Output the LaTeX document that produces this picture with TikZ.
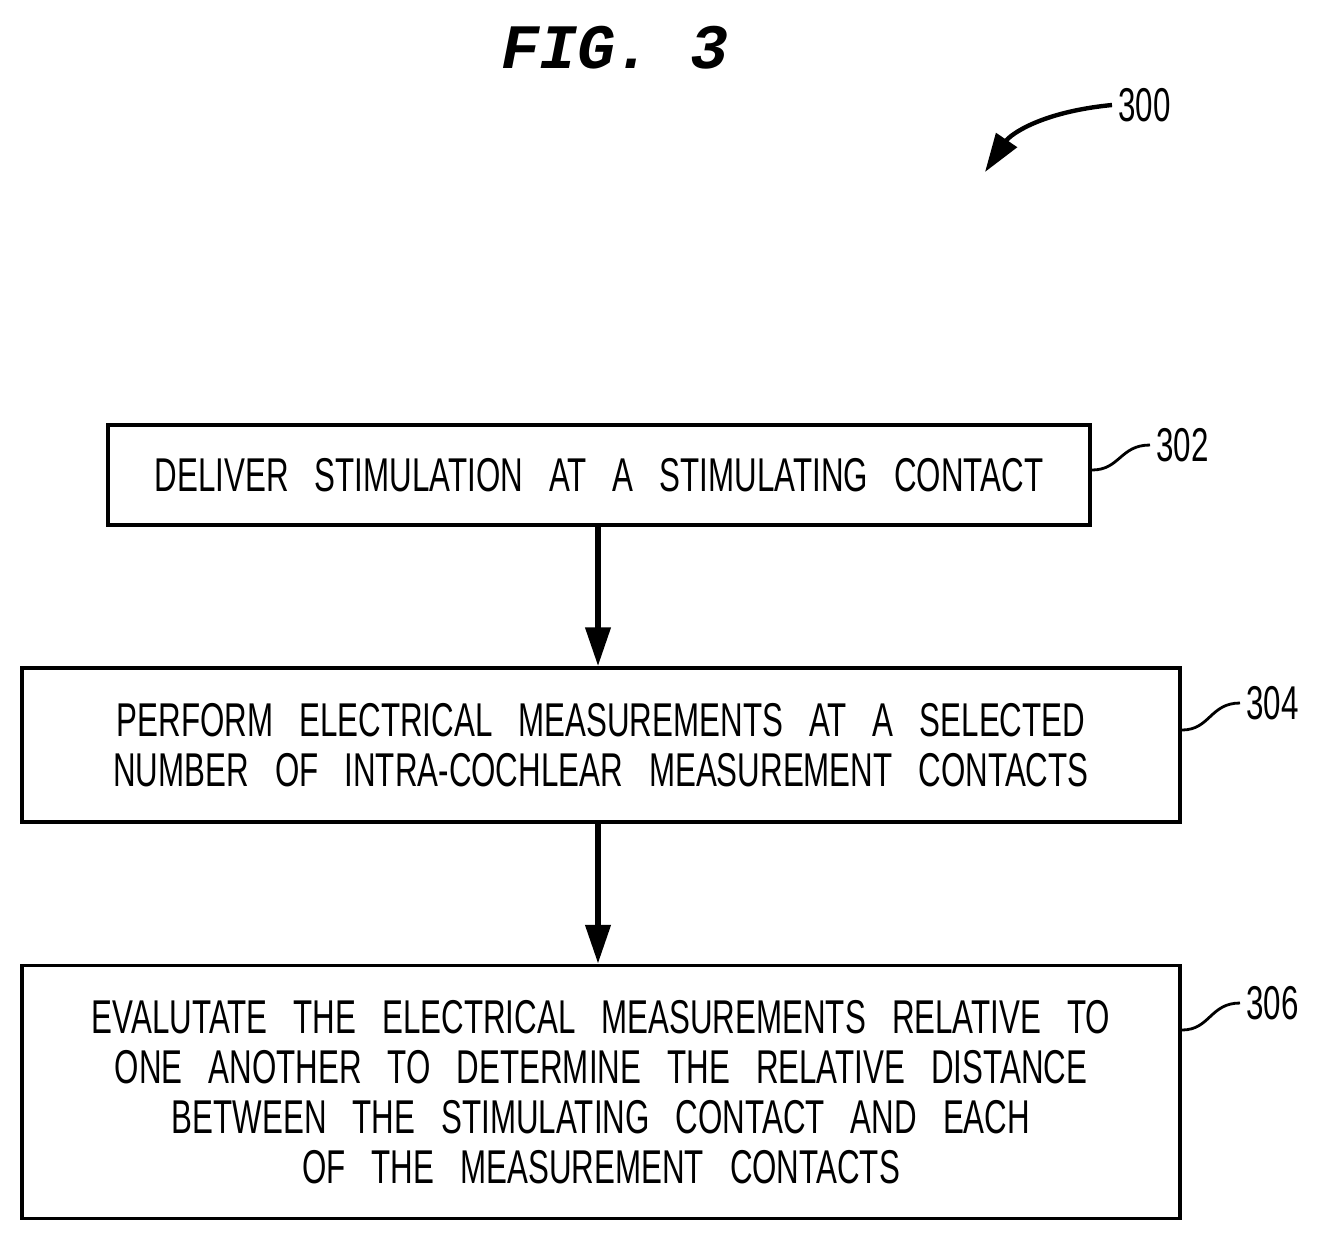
\documentclass[tikz,border=0pt]{standalone}
\usepackage{fontspec}
\setmainfont[FakeStretch=0.66,WordSpace=3]{Liberation Sans}
\setmonofont{Liberation Mono}
\usetikzlibrary{arrows.meta}
\begin{document}
\begin{tikzpicture}[x=0.02cm,y=-0.02cm,
  stepbox/.style={draw,line width=2.2pt,inner sep=0pt},
  txt/.style={font=\fontsize{27}{28.5}\selectfont,align=center},
  flow/.style={line width=3pt,-{Triangle[length=22pt,width=14pt]}},
  lead/.style={line width=1.6pt},
  ref/.style={font=\fontsize{27}{30}\selectfont,anchor=west}]

% Bounding box of the reference
\useasboundingbox (0,0) rectangle (1324,1242);

% Title and figure number
\node[font=\fontsize{36}{40}\selectfont\itshape\bfseries\ttfamily] (fig) at (615,48) {FIG. 3};
\node[ref] (n300) at (1112,105) {300};
\coordinate (tip) at (985,172);
\draw[line width=2.5pt,-{Triangle[length=22pt,width=14pt]}] (n300.west) .. controls (1040,112) and (1010,135) .. (tip);

% The three steps
\node[stepbox,minimum width=982*0.02cm,minimum height=100*0.02cm] (deliver) at (599,475) {};
\node[txt] at (deliver) {DELIVER STIMULATION AT A STIMULATING CONTACT};
\node[stepbox,minimum width=1158*0.02cm,minimum height=154*0.02cm] (measure) at (601,745) {};
\node[txt] at (measure) {PERFORM ELECTRICAL MEASUREMENTS AT A SELECTED\\NUMBER OF INTRA-COCHLEAR MEASUREMENT CONTACTS};
\node[stepbox,minimum width=1158*0.02cm,minimum height=253*0.02cm] (evaluate) at (601,1092) {};
\node[txt] at (evaluate) {EVALUTATE THE ELECTRICAL MEASUREMENTS RELATIVE TO\\ONE ANOTHER TO DETERMINE THE RELATIVE DISTANCE\\BETWEEN THE STIMULATING CONTACT AND EACH\\OF THE MEASUREMENT CONTACTS};

% Flow arrows
\draw[flow] (deliver.south -| 598,0) -- (measure.north -| 598,0);
\draw[flow] (measure.south -| 598,0) -- (evaluate.north -| 598,0);

% Reference numerals with leaders
\node[ref] (n302) at (1150,445) {302};
\node[ref] (n304) at (1240,703) {304};
\node[ref] (n306) at (1240,1003) {306};
\draw[lead] (deliver.east |- 0,470) .. controls (1120,470) and (1120,445) .. (n302.west);
\draw[lead] (measure.east |- 0,730) .. controls (1210,730) and (1210,703) .. (n304.west);
\draw[lead] (evaluate.east |- 0,1030) .. controls (1210,1030) and (1210,1003) .. (n306.west);
\end{tikzpicture}
\end{document}
